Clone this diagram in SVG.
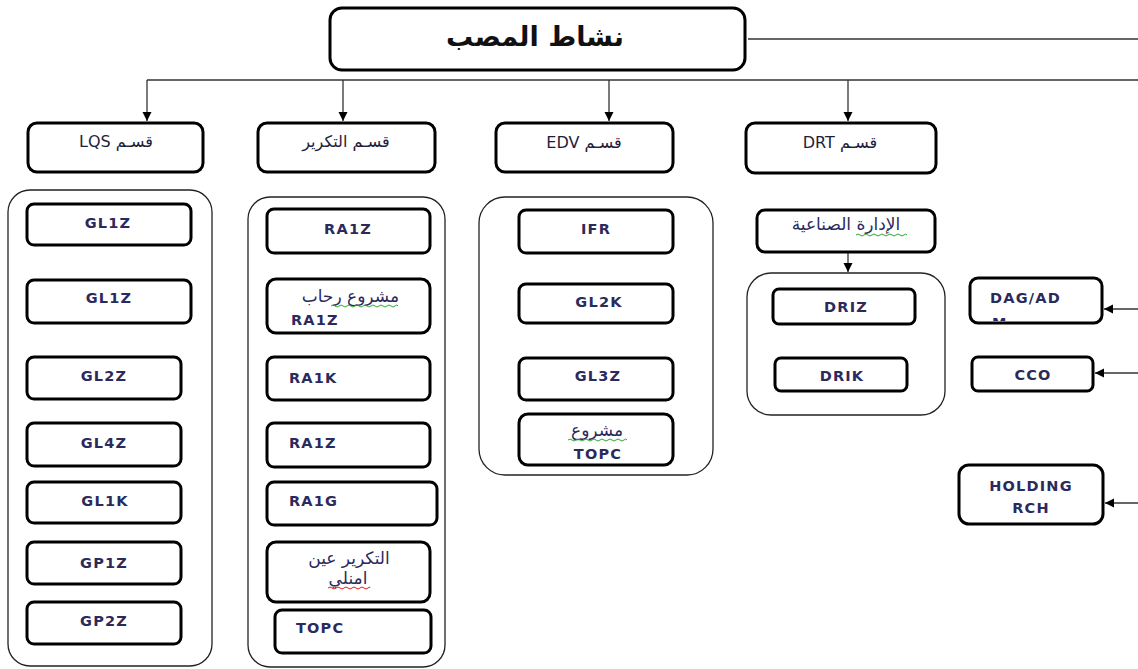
<svg xmlns="http://www.w3.org/2000/svg" width="1138" height="669" viewBox="0 0 1138 669">
  <style>
    .node { fill: #fff; stroke: #000; stroke-width: 3; }
    .frame { fill: #fff; stroke: #222; stroke-width: 1.3; }
    .wire { fill: none; stroke: #333; stroke-width: 1.3; }
    .lat { font-family: "DejaVu Sans", sans-serif; font-size: 14.5px; font-weight: bold; fill: #2b2a5c; letter-spacing: 1.2px; }
    .ar { font-family: "DejaVu Sans", sans-serif; font-size: 17px; fill: #2b2a5c; }
    .head { font-family: "DejaVu Sans", sans-serif; font-size: 16px; fill: #1e1e3c; }
    .title { font-family: "DejaVu Sans", sans-serif; font-size: 27px; font-weight: bold; fill: #111; }
    .mid { text-anchor: middle; }
    .squig-g { fill: none; stroke: #2fa82f; stroke-width: 1; }
    .squig-r { fill: none; stroke: #e02020; stroke-width: 1; }
  </style>
  <defs>
    <marker id="arr" viewBox="0 0 10 10" refX="10" refY="5" markerWidth="7" markerHeight="7" orient="auto">
      <path d="M0,0 L10,5 L0,10 z" fill="#000"/>
    </marker>
    <clipPath id="clipDag"><rect x="971" y="279" width="130" height="42"/></clipPath>
  </defs>

  <rect width="1138" height="669" fill="#fff"/>

  <!-- connectors -->
  <g id="connectors">
    <line class="wire" x1="748" y1="39" x2="1138" y2="39"/>
    <line class="wire" x1="147" y1="80" x2="1138" y2="80"/>
    <line class="wire" x1="147" y1="80" x2="147" y2="121" marker-end="url(#arr)"/>
    <line class="wire" x1="343" y1="80" x2="343" y2="121" marker-end="url(#arr)"/>
    <line class="wire" x1="609" y1="80" x2="609" y2="121" marker-end="url(#arr)"/>
    <line class="wire" x1="848" y1="80" x2="848" y2="121" marker-end="url(#arr)"/>
    <line class="wire" x1="848" y1="253" x2="848" y2="272" marker-end="url(#arr)"/>
    <line class="wire" x1="1138" y1="309" x2="1104" y2="309" marker-end="url(#arr)"/>
    <line class="wire" x1="1138" y1="373" x2="1095" y2="373" marker-end="url(#arr)"/>
    <line class="wire" x1="1138" y1="503" x2="1105" y2="503" marker-end="url(#arr)"/>
  </g>

  <!-- top node -->
  <g id="root">
    <rect class="node" x="330" y="8" width="415" height="62" rx="12"/>
    <text class="title mid" x="535" y="46">نشاط المصب</text>
  </g>

  <!-- department headers -->
  <g id="dept-lqs">
    <rect class="node" x="28" y="123" width="175" height="49" rx="9"/>
    <text class="head mid" x="116" y="147" direction="rtl">قسـم LQS</text>
  </g>
  <g id="dept-takrir">
    <rect class="node" x="258" y="123" width="177" height="49" rx="9"/>
    <text class="head mid" x="346" y="147" direction="rtl">قسـم التكرير</text>
  </g>
  <g id="dept-edv">
    <rect class="node" x="496" y="123" width="177" height="49" rx="9"/>
    <text class="head mid" x="584" y="148" direction="rtl">قسـم EDV</text>
  </g>
  <g id="dept-drt">
    <rect class="node" x="746" y="123" width="190" height="50" rx="9"/>
    <text class="head mid" x="840" y="148" direction="rtl">قسـم  DRT</text>
  </g>

  <!-- LQS column -->
  <g id="group-lqs">
    <rect class="frame" x="8" y="190" width="204" height="476" rx="22"/>
  </g>
  <g id="gl1z-a">
    <rect class="node" x="27" y="204" width="164" height="41" rx="7"/>
    <text class="lat mid" x="108" y="228">GL1Z</text>
  </g>
  <g id="gl1z-b">
    <rect class="node" x="27" y="280" width="164" height="43" rx="7"/>
    <text class="lat mid" x="109" y="303">GL1Z</text>
  </g>
  <g id="gl2z">
    <rect class="node" x="27" y="357" width="154" height="42" rx="7"/>
    <text class="lat mid" x="104" y="381">GL2Z</text>
  </g>
  <g id="gl4z">
    <rect class="node" x="27" y="423" width="154" height="43" rx="7"/>
    <text class="lat mid" x="104" y="448">GL4Z</text>
  </g>
  <g id="gl1k">
    <rect class="node" x="27" y="482" width="154" height="41" rx="7"/>
    <text class="lat mid" x="105" y="506">GL1K</text>
  </g>
  <g id="gp1z">
    <rect class="node" x="27" y="542" width="154" height="42" rx="7"/>
    <text class="lat mid" x="104" y="568">GP1Z</text>
  </g>
  <g id="gp2z">
    <rect class="node" x="27" y="602" width="154" height="42" rx="7"/>
    <text class="lat mid" x="104" y="626">GP2Z</text>
  </g>

  <!-- refining column -->
  <g id="group-takrir">
    <rect class="frame" x="248" y="197" width="197" height="470" rx="22"/>
  </g>
  <g id="ra1z-a">
    <rect class="node" x="267" y="209" width="163" height="44" rx="7"/>
    <text class="lat mid" x="348" y="234">RA1Z</text>
  </g>
  <g id="rehab-ra1z">
    <rect class="node" x="267" y="279" width="163" height="54" rx="9"/>
    <text class="ar" x="399" y="302" text-anchor="end">مشروع رحاب</text>
    <path class="squig-g" d="M331,306 q2,-2 4,0 t4,0 t4,0 t4,0 t4,0 t4,0 t4,0 t4,0 t4,0 t4,0 t4,0 t4,0 t4,0 t4,0 t4,0 t4,0 t3,0"/>
    <text class="lat" x="291" y="325">RA1Z</text>
  </g>
  <g id="ra1k">
    <rect class="node" x="267" y="357" width="163" height="43" rx="7"/>
    <text class="lat" x="289" y="383">RA1K</text>
  </g>
  <g id="ra1z-b">
    <rect class="node" x="267" y="423" width="163" height="44" rx="7"/>
    <text class="lat" x="289" y="448">RA1Z</text>
  </g>
  <g id="ra1g">
    <rect class="node" x="267" y="482" width="170" height="43" rx="7"/>
    <text class="lat" x="289" y="506">RA1G</text>
  </g>
  <g id="ain-amenas">
    <rect class="node" x="267" y="542" width="163" height="60" rx="9"/>
    <text class="ar mid" x="349" y="564">التكرير عين</text>
    <text class="ar mid" x="348" y="584">امنلي</text>
    <path class="squig-r" d="M328,588 q2,-2 4,0 t4,0 t4,0 t4,0 t4,0 t4,0 t4,0 t4,0 t4,0 t4,0 t2,0"/>
  </g>
  <g id="topc-a">
    <rect class="node" x="275" y="610" width="156" height="43" rx="7"/>
    <text class="lat" x="296" y="633">TOPC</text>
  </g>

  <!-- EDV column -->
  <g id="group-edv">
    <rect class="frame" x="479" y="197" width="234" height="278" rx="26"/>
  </g>
  <g id="ifr">
    <rect class="node" x="519" y="210" width="154" height="43" rx="7"/>
    <text class="lat mid" x="596" y="234">IFR</text>
  </g>
  <g id="gl2k">
    <rect class="node" x="519" y="284" width="154" height="39" rx="7"/>
    <text class="lat mid" x="599" y="307">GL2K</text>
  </g>
  <g id="gl3z">
    <rect class="node" x="519" y="358" width="154" height="42" rx="7"/>
    <text class="lat mid" x="598" y="381">GL3Z</text>
  </g>
  <g id="projet-topc">
    <rect class="node" x="519" y="414" width="154" height="51" rx="9"/>
    <text class="ar mid" x="597" y="436">مشروع</text>
    <path class="squig-g" d="M568,440 q2,-2 4,0 t4,0 t4,0 t4,0 t4,0 t4,0 t4,0 t4,0 t4,0 t4,0 t4,0 t4,0 t4,0 t4,0 t3,0"/>
    <text class="lat mid" x="598" y="459">TOPC</text>
  </g>

  <!-- DRT column -->
  <g id="industrial">
    <rect class="node" x="757" y="210" width="178" height="42" rx="8"/>
    <text class="ar mid" x="846" y="230">الإدارة الصناعية</text>
    <path class="squig-g" d="M856,235 q2,-2 4,0 t4,0 t4,0 t4,0 t4,0 t4,0 t4,0 t4,0 t4,0 t4,0 t4,0 t4,0 t3,0"/>
  </g>
  <g id="group-drt">
    <rect class="frame" x="747" y="273" width="198" height="142" rx="24"/>
  </g>
  <g id="driz">
    <rect class="node" x="773" y="289" width="142" height="35" rx="6"/>
    <text class="lat mid" x="846" y="312">DRIZ</text>
  </g>
  <g id="drik">
    <rect class="node" x="775" y="358" width="132" height="33" rx="6"/>
    <text class="lat mid" x="842" y="381">DRIK</text>
  </g>

  <!-- right-hand units; the second line of the label overflows and is cut by the box -->
  <g id="dag-adm">
    <rect class="node" x="970" y="278" width="132" height="45" rx="8"/>
    <g clip-path="url(#clipDag)">
      <text class="lat" x="990" y="303">DAG/AD</text>
      <text class="lat" x="992" y="328">M</text>
    </g>
  </g>
  <g id="cco">
    <rect class="node" x="972" y="357" width="121" height="34" rx="6"/>
    <text class="lat mid" x="1033" y="380">CCO</text>
  </g>
  <g id="holding-rch">
    <rect class="node" x="959" y="465" width="144" height="59" rx="10"/>
    <text class="lat mid" x="1031" y="491">HOLDING</text>
    <text class="lat mid" x="1031" y="513">RCH</text>
  </g>
</svg>
